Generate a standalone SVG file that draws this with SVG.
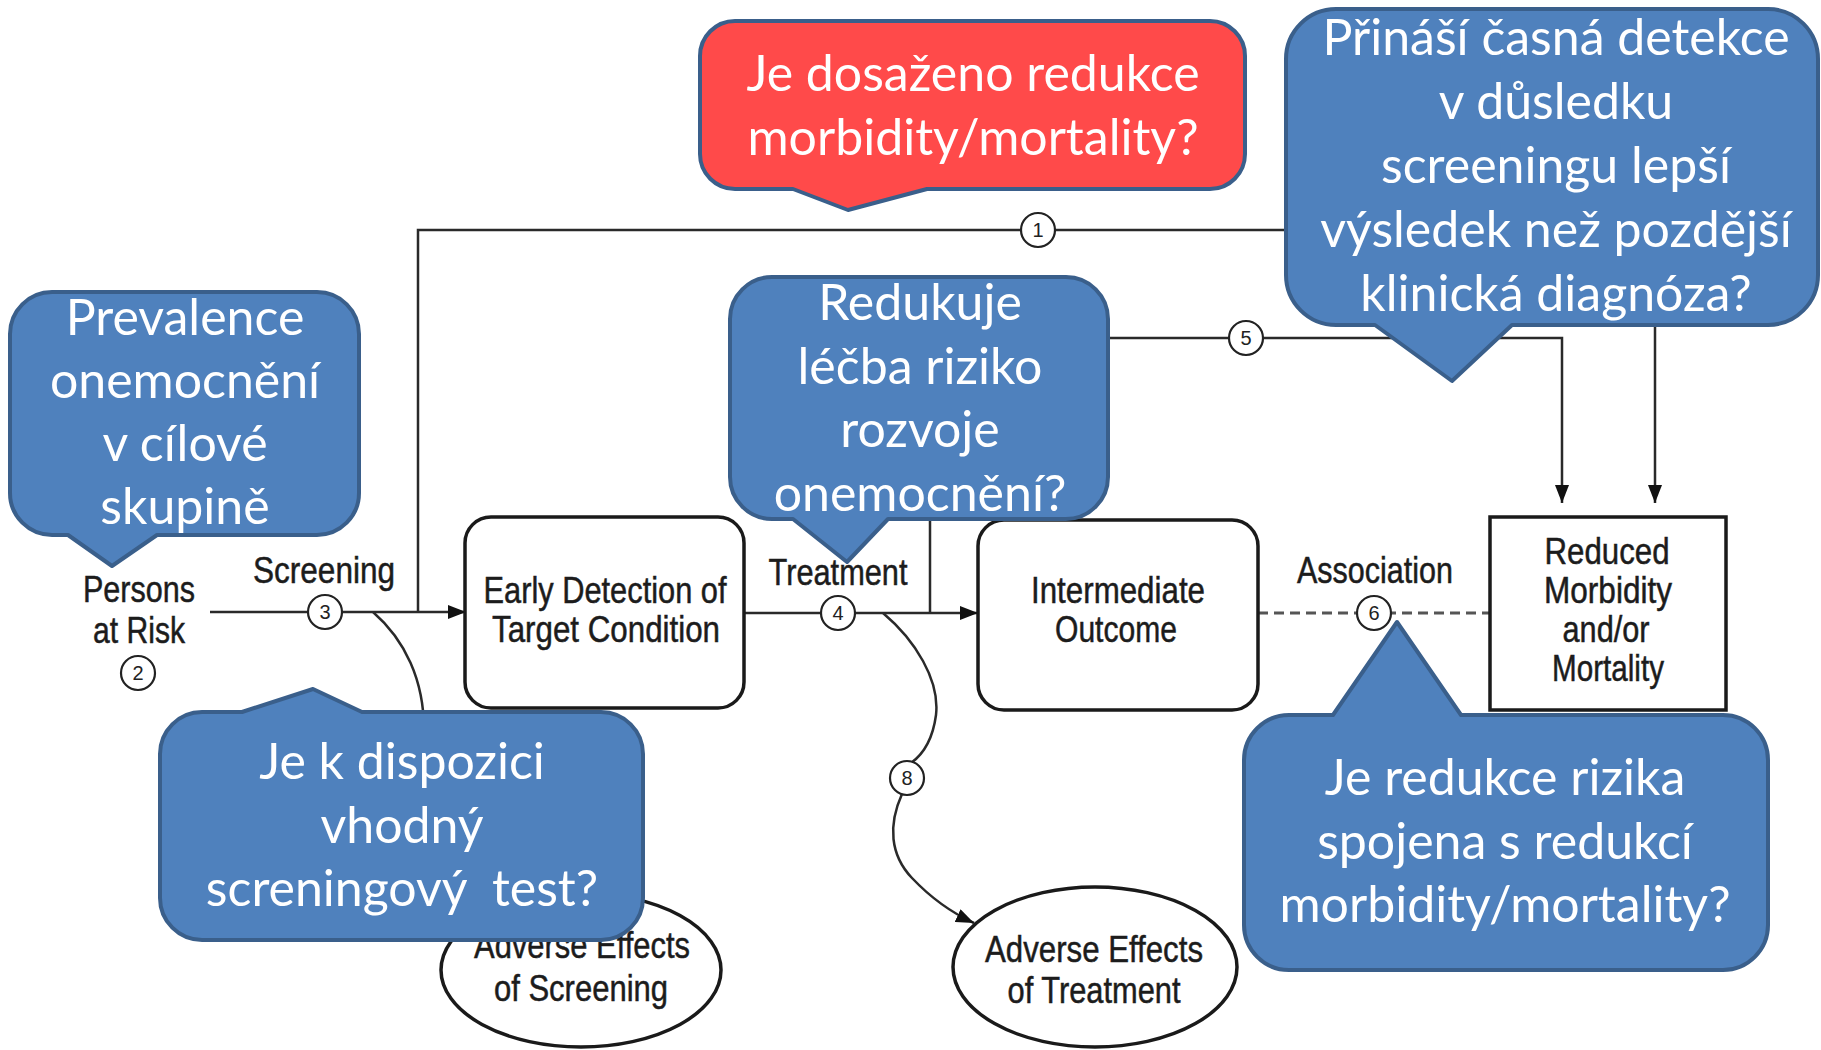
<svg xmlns="http://www.w3.org/2000/svg" width="1821" height="1050" viewBox="0 0 1821 1050">
<style>
.bg{fill:#ffffff}
.box{fill:#ffffff;stroke:#1a1a1a;stroke-width:3.5}
.ln{fill:none;stroke:#2a2a2a;stroke-width:2.5}
.dash{fill:none;stroke:#555555;stroke-width:3;stroke-dasharray:10 6}
.num{fill:#ffffff;stroke:#222222;stroke-width:2.2}
.numt{font-family:"Liberation Sans",Arial,sans-serif;font-size:20px;fill:#222222;text-anchor:middle}
.dt{font-family:"Liberation Sans",Arial,sans-serif;font-size:37px;fill:#1c1c1c;stroke:#1c1c1c;stroke-width:0.5;text-anchor:middle}
.cb{fill:#4F81BD;stroke:#3A5F8B;stroke-width:4;stroke-linejoin:round}
.cr{fill:#FF4A4A;stroke:#3A5F8B;stroke-width:4;stroke-linejoin:round}
.ct{font-family:Lato,"Open Sans","Liberation Sans",sans-serif;font-size:50px;fill:#ffffff;text-anchor:middle;white-space:pre}
</style>
<defs>
<marker id="arr" viewBox="0 0 18 14" refX="18" refY="7" markerWidth="18" markerHeight="14" markerUnits="userSpaceOnUse" orient="auto">
<path d="M0,0 L18,7 L0,14 Z" fill="#111111"/>
</marker>
</defs>
<rect class="bg" x="0" y="0" width="1821" height="1050"/>

<g id="connectors">
<path class="ln" d="M418,612 V230 H1655 V503" marker-end="url(#arr)"/>
<path class="ln" d="M210,612 H466" marker-end="url(#arr)"/>
<path class="ln" d="M744,613 H978" marker-end="url(#arr)"/>
<path class="ln" d="M930,613 V338 H1562 V503" marker-end="url(#arr)"/>
<path class="dash" d="M1258,613 H1490"/>
<path class="ln" d="M373,612 C405,640 424,680 424,730 V780"/>
<path class="ln" d="M883,613 C915,640 940,680 936,715 C932,745 918,758 911,763"/>
<path class="ln" d="M902,794 C888,825 890,855 912,878 C930,897 950,912 974,923" marker-end="url(#arr)"/>
</g>

<g id="n-persons">
<text class="dt" x="139" y="602" textLength="112" lengthAdjust="spacingAndGlyphs">Persons</text>
<text class="dt" x="139" y="643" textLength="92" lengthAdjust="spacingAndGlyphs">at Risk</text>
</g>
<g id="lbl-screening"><text class="dt" x="324" y="583" textLength="142" lengthAdjust="spacingAndGlyphs">Screening</text></g>
<g id="lbl-treatment"><text class="dt" x="838" y="585" textLength="139" lengthAdjust="spacingAndGlyphs">Treatment</text></g>
<g id="lbl-association"><text class="dt" x="1375" y="583" textLength="156" lengthAdjust="spacingAndGlyphs">Association</text></g>

<g id="n-early">
<rect class="box" x="465" y="517" width="279" height="191" rx="26"/>
<text class="dt" x="605" y="603" textLength="243" lengthAdjust="spacingAndGlyphs">Early Detection of</text>
<text class="dt" x="606" y="642" textLength="228" lengthAdjust="spacingAndGlyphs">Target Condition</text>
</g>
<g id="n-intermediate">
<rect class="box" x="978" y="520" width="280" height="190" rx="26"/>
<text class="dt" x="1118" y="603" textLength="174" lengthAdjust="spacingAndGlyphs">Intermediate</text>
<text class="dt" x="1116" y="642" textLength="122" lengthAdjust="spacingAndGlyphs">Outcome</text>
</g>
<g id="n-reduced">
<rect class="box" x="1490" y="517" width="236" height="193"/>
<text class="dt" x="1607" y="564" textLength="125" lengthAdjust="spacingAndGlyphs">Reduced</text>
<text class="dt" x="1608" y="603" textLength="128" lengthAdjust="spacingAndGlyphs">Morbidity</text>
<text class="dt" x="1606" y="642" textLength="87" lengthAdjust="spacingAndGlyphs">and/or</text>
<text class="dt" x="1608" y="681" textLength="112" lengthAdjust="spacingAndGlyphs">Mortality</text>
</g>
<g id="n-adv-screening">
<ellipse class="box" cx="581" cy="970" rx="140" ry="77"/>
<text class="dt" x="582" y="958" textLength="216" lengthAdjust="spacingAndGlyphs">Adverse Effects</text>
<text class="dt" x="581" y="1001" textLength="174" lengthAdjust="spacingAndGlyphs">of Screening</text>
</g>
<g id="n-adv-treatment">
<ellipse class="box" cx="1095" cy="967" rx="142" ry="80"/>
<text class="dt" x="1094" y="962" textLength="218" lengthAdjust="spacingAndGlyphs">Adverse Effects</text>
<text class="dt" x="1094" y="1003" textLength="173" lengthAdjust="spacingAndGlyphs">of Treatment</text>
</g>

<g id="markers">
<g id="m1"><circle class="num" cx="1038" cy="230" r="17"/><text class="numt" x="1038" y="237">1</text></g>
<g id="m2"><circle class="num" cx="138" cy="673" r="17"/><text class="numt" x="138" y="680">2</text></g>
<g id="m3"><circle class="num" cx="325" cy="612" r="17"/><text class="numt" x="325" y="619">3</text></g>
<g id="m4"><circle class="num" cx="838" cy="613" r="17"/><text class="numt" x="838" y="620">4</text></g>
<g id="m5"><circle class="num" cx="1246" cy="338" r="17"/><text class="numt" x="1246" y="345">5</text></g>
<g id="m6"><circle class="num" cx="1374" cy="613" r="17"/><text class="numt" x="1374" y="620">6</text></g>
<g id="m8"><circle class="num" cx="907" cy="778" r="17"/><text class="numt" x="907" y="785">8</text></g>
</g>

<g id="c-prevalence">
<path class="cb" d="M52,292 H317 A42,42 0 0 1 359,334 V493 A42,42 0 0 1 317,535 H157 L112,566 L68,535 H52 A42,42 0 0 1 10,493 V334 A42,42 0 0 1 52,292 Z"/>
<text class="ct" x="185" y="335">Prevalence</text>
<text class="ct" x="185" y="398">onemocnění</text>
<text class="ct" x="185" y="461">v cílové</text>
<text class="ct" x="185" y="524">skupině</text>
</g>
<g id="c-redukuje">
<path class="cb" d="M772,277 H1066 A42,42 0 0 1 1108,319 V477 A42,42 0 0 1 1066,519 H888 L847,562 L793,519 H772 A42,42 0 0 1 730,477 V319 A42,42 0 0 1 772,277 Z"/>
<text class="ct" x="920" y="320">Redukuje</text>
<text class="ct" x="920" y="384">léčba riziko</text>
<text class="ct" x="920" y="447">rozvoje</text>
<text class="ct" x="920" y="511">onemocnění?</text>
</g>
<g id="c-prinasi">
<path class="cb" d="M1336,9 H1768 A50,50 0 0 1 1818,59 V275 A50,50 0 0 1 1768,325 H1512 L1452,381 L1375,325 H1336 A50,50 0 0 1 1286,275 V59 A50,50 0 0 1 1336,9 Z"/>
<text class="ct" x="1556" y="55">Přináší časná detekce</text>
<text class="ct" x="1556" y="119">v důsledku</text>
<text class="ct" x="1556" y="183">screeningu lepší</text>
<text class="ct" x="1556" y="247">výsledek než pozdější</text>
<text class="ct" x="1556" y="311">klinická diagnóza?</text>
</g>
<g id="c-dispozici">
<path class="cb" d="M202,712 H242 L313,689 L362,712 H601 A42,42 0 0 1 643,754 V898 A42,42 0 0 1 601,940 H202 A42,42 0 0 1 160,898 V754 A42,42 0 0 1 202,712 Z"/>
<text class="ct" x="402" y="779">Je k dispozici</text>
<text class="ct" x="402" y="843">vhodný</text>
<text class="ct" x="402" y="906">screningový  test?</text>
</g>
<g id="c-spojena">
<path class="cb" d="M1289,715 H1333 L1397,622 L1461,715 H1723 A45,45 0 0 1 1768,760 V925 A45,45 0 0 1 1723,970 H1289 A45,45 0 0 1 1244,925 V760 A45,45 0 0 1 1289,715 Z"/>
<text class="ct" x="1505" y="795">Je redukce rizika</text>
<text class="ct" x="1505" y="859">spojena s redukcí</text>
<text class="ct" x="1505" y="922">morbidity/mortality?</text>
</g>
<g id="c-dosazeno">
<path class="cr" d="M735,21 H1210 A35,35 0 0 1 1245,56 V154 A35,35 0 0 1 1210,189 H927 L848,210 L793,189 H735 A35,35 0 0 1 700,154 V56 A35,35 0 0 1 735,21 Z"/>
<text class="ct" x="973" y="91">Je dosaženo redukce</text>
<text class="ct" x="973" y="155">morbidity/mortality?</text>
</g>
</svg>
